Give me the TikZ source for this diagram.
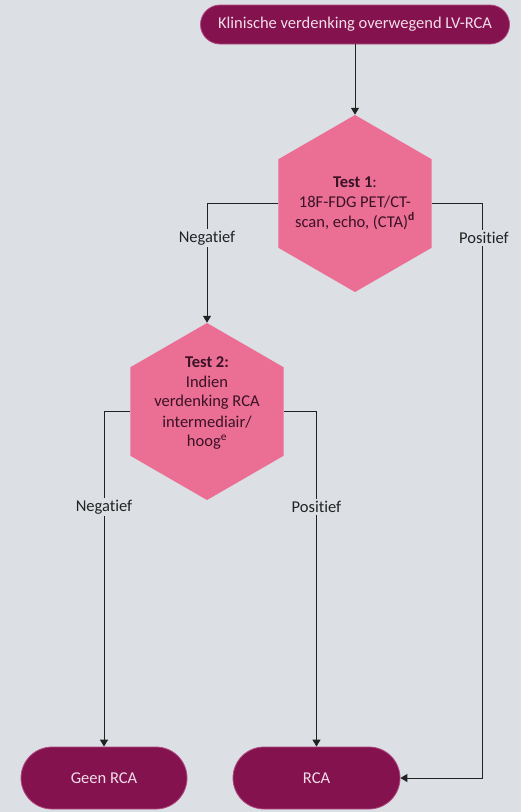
\documentclass[tikz,border=0pt]{standalone}
\usepackage{fontspec}
\setmainfont{Carlito}[Ligatures=NoCommon]
\usepackage{tikz}
\usetikzlibrary{positioning, shapes.geometric, shapes.misc, arrows.meta}
\definecolor{rcaBack}{HTML}{DCE0E5}
\definecolor{rcaPurple}{HTML}{84124F}
\definecolor{rcaPink}{HTML}{EB6E94}
\definecolor{rcaEdge}{HTML}{B04A80}
\definecolor{rcaInk}{HTML}{3A1226}
\definecolor{rcaLight}{HTML}{F3DDE8}
\definecolor{rcaLine}{HTML}{222222}

\begin{document}
\begin{tikzpicture}[x=1pt, y=-1pt,
  font=\fontsize{16.5}{20}\selectfont,
  endpoint/.style={rounded rectangle, draw=rcaEdge, line width=0.8pt,
    fill=rcaPurple, text=rcaLight, inner sep=0pt},
  testhex/.style={regular polygon, regular polygon sides=6,
    shape border rotate=30, minimum size=177pt, inner sep=0pt,
    fill=rcaPink},
  hextext/.style={text=rcaInk, align=center, inner sep=0pt},
  lbl/.style={fill=rcaBack, text=rcaLine, inner sep=2pt},
  arr/.style={-{Triangle[length=7pt, width=8pt]}, rcaLine, line width=1pt}]

\fill[rcaBack] (0,0) rectangle (521,812);
\useasboundingbox (0,0) rectangle (521,812);

\node[endpoint, minimum width=309pt, minimum height=39pt] (start) at (355,24.5)
  {Klinische verdenking overwegend LV-RCA};
\node[testhex] (test1) at (355,203.5) {};
\node[hextext] (test1txt) at (355,203)
  {\textbf{Test 1}:\\18F-FDG PET/CT-\\scan, echo, (CTA)\textsuperscript{\textbf{d}}};
\node[testhex] (test2) at (207,411.5) {};
\node[hextext] (test2txt) at (207,403)
  {\textbf{Test 2:}\\Indien\\verdenking RCA\\intermediair/\\hoog\textsuperscript{e}};
\node[endpoint, minimum width=166pt, minimum height=62pt] (geen) at (104,778)
  {Geen RCA};
\node[endpoint, minimum width=167pt, minimum height=62pt] (rca) at (316.5,778)
  {RCA};

\draw[arr] (start.south) -- (test1.north);
\draw[arr] (test1.west) -| (test2.north);
\draw[arr] (test1.east) -- ++(51,0) |- (rca.east);
\draw[arr] (test2.west) -| (geen.north);
\draw[arr] (test2.east) -| (rca.north);

\node[lbl] (neg1) at (207,238) {Negatief};
\node[lbl] (pos1) at (484,238) {Positief};
\node[lbl] (neg2) at (104,507) {Negatief};
\node[lbl] (pos2) at (316.5,507) {Positief};
\end{tikzpicture}
\end{document}
